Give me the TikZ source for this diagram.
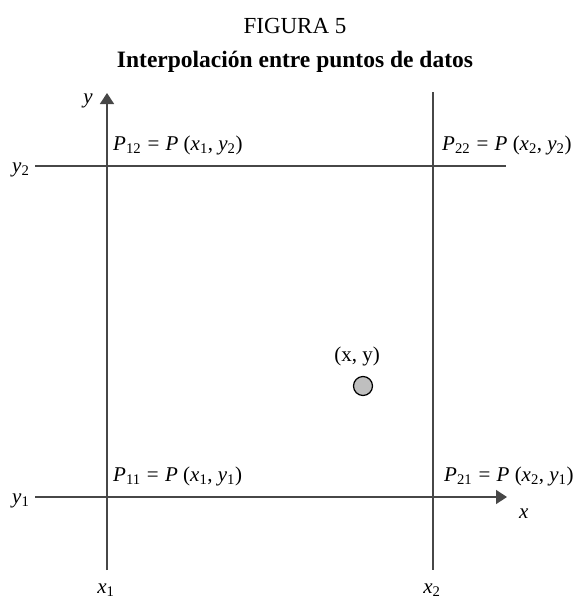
\documentclass[tikz,border=0pt]{standalone}
\usepackage{fontspec}
\setmainfont{Liberation Serif}
\usetikzlibrary{arrows.meta, positioning}
\newcommand{\iv}[2]{\textit{#1}\textsubscript{#2}}
\newcommand{\eqsp}{\hspace{0.3em}=\hspace{0.3em}}
\tikzset{
  gridline/.style  = {line width=1.4pt, black!72},
  axisline/.style  = {gridline, -{Triangle[length=11pt, width=14pt]}},
  lbl/.style       = {font=\fontsize{21}{25}\selectfont, inner sep=0pt},
  ttl/.style       = {font=\fontsize{23}{27}\selectfont, inner sep=0pt},
  datapt/.style    = {circle, draw=black, line width=1.2pt, fill=black!25,
                      minimum size=19pt, inner sep=0pt},
}
\begin{document}
\begin{tikzpicture}[x=1pt, y=-1pt]
  \useasboundingbox (0,0) rectangle (580,598);
  % titulos
  \node[ttl, anchor=base] (fig) at (295,33) {FIGURA 5};
  \node[ttl, anchor=base, font=\fontsize{23.5}{28}\selectfont\bfseries] (tit) at (295,67)
    {Interpolación entre puntos de datos};
  % extremos de las lineas
  \coordinate (yb) at (107,570);
  \coordinate (yt) at (107,93);
  \coordinate (vb) at (433,570);
  \coordinate (vt) at (433,92);
  \coordinate (hl) at (35,166);
  \coordinate (hr) at (506,166);
  \coordinate (xl) at (35,497);
  \coordinate (xr) at (507,497);
  \draw[axisline] (yb) -- (yt);
  \draw[gridline] (vt) -- (vb);
  \draw[gridline] (hl) -- (hr);
  \draw[axisline] (xl) -- (xr);
  % ejes
  \node[lbl, anchor=base east] (ylab) at (93,103) {\textit{y}};
  \node[lbl, anchor=base west] (xlab) at (519,518) {\textit{x}};
  \node[lbl, anchor=base west] (y2lab) at (12,172) {\iv{y}{2}};
  \node[lbl, anchor=base west] (y1lab) at (12,503) {\iv{y}{1}};
  \node[lbl, anchor=base] (x1lab) at (106,593) {\iv{x}{1}};
  \node[lbl, anchor=base] (x2lab) at (432,593) {\iv{x}{2}};
  % esquinas
  \node[lbl, anchor=base west] (p12) at (113,150)
    {\iv{P}{12}\eqsp\textit{P} (\iv{x}{1}, \iv{y}{2})};
  \node[lbl, anchor=base west] (p22) at (442,150)
    {\iv{P}{22}\eqsp\textit{P} (\iv{x}{2}, \iv{y}{2})};
  \node[lbl, anchor=base west] (p11) at (113,481)
    {\iv{P}{11}\eqsp\textit{P} (\iv{x}{1}, \iv{y}{1})};
  \node[lbl, anchor=base west] (p21) at (444,481)
    {\iv{P}{21}\eqsp\textit{P} (\iv{x}{2}, \iv{y}{1})};
  % punto interpolado
  \node[lbl, anchor=base] (xylab) at (357,361) {(x, y)};
  \node[datapt] (pt) at (363,386) {};
\end{tikzpicture}
\end{document}
